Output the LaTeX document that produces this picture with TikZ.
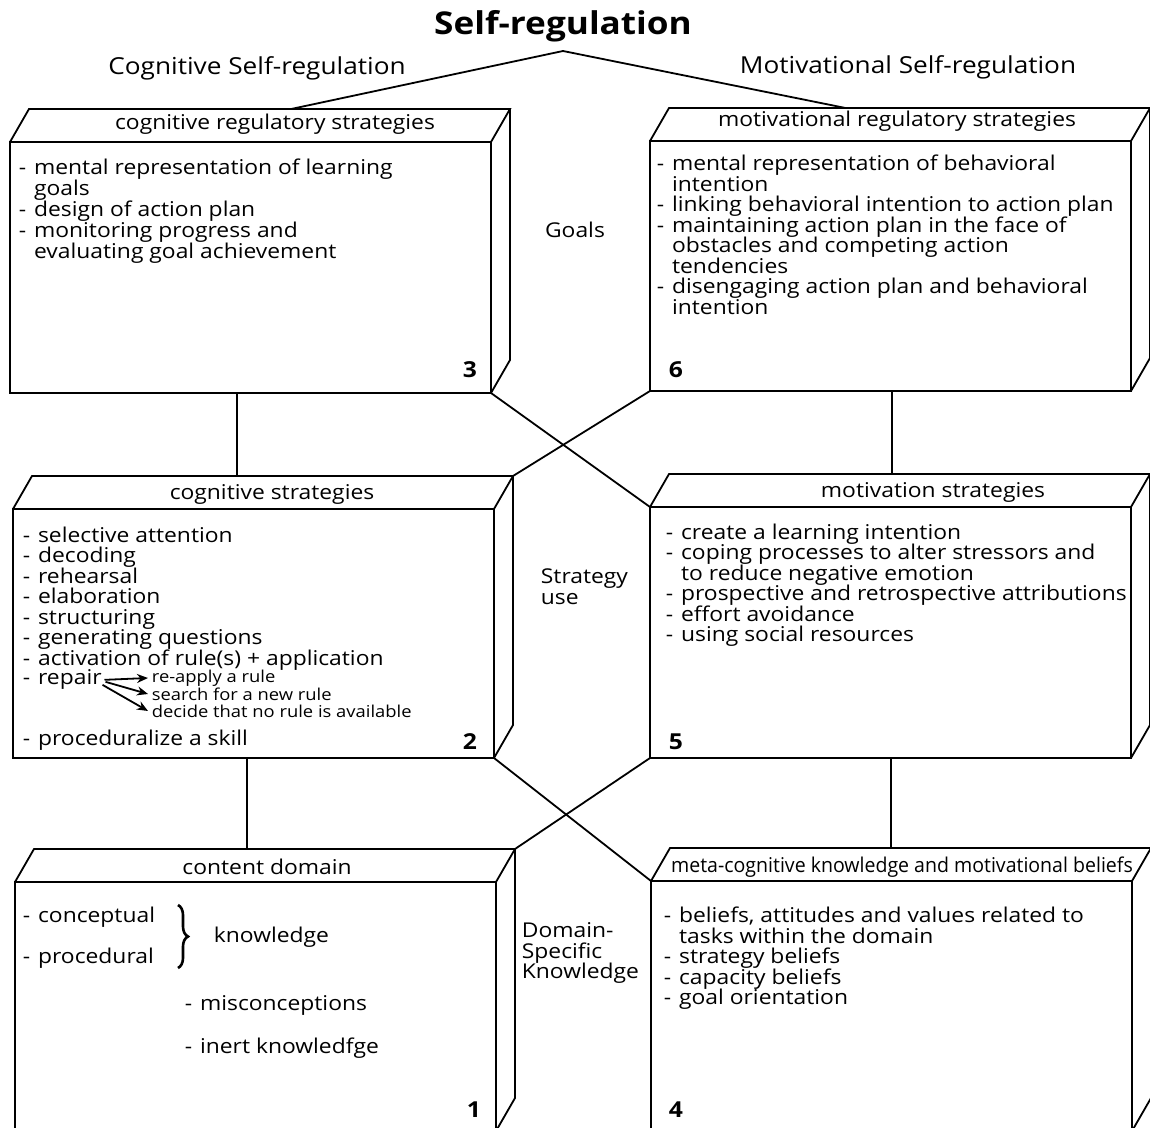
\documentclass[tikz,border=0pt]{standalone}
\usepackage{fontspec}
\setmainfont{Open Sans}[FakeStretch=1.12]
\usetikzlibrary{calc,arrows.meta,decorations.pathreplacing}
\newcommand{\itm}{\makebox[7.6pt][l]{-}}
\newcommand{\cnt}{\hspace*{7.6pt}}
\newcommand{\tightlines}{\lineskiplimit=-30pt\lineskip=0pt}
\newcommand{\cuboid}[5]{%
  \node[face, minimum width={(#4-#2)*0.5pt}, minimum height={(#5-#3)*0.5pt}, anchor=north west] (#1) at (#2,#3) {};
  \coordinate (#1-tl) at ($(#1.north west)+(19,-33)$);
  \coordinate (#1-tr) at ($(#1.north east)+(19,-33)$);
  \coordinate (#1-br) at ($(#1.south east)+(19,-33)$);
  \draw (#1.north west) -- (#1-tl) -- (#1-tr) -- (#1.north east);
  \draw (#1-tr) -- (#1-br) -- (#1.south east);
}
\begin{document}
\begin{tikzpicture}[x=0.5pt,y=-0.5pt, line width=0.9pt,
  face/.style={draw, inner sep=0pt, outer sep=0pt},
  txt/.style={inner sep=0pt, font=\fontsize{10.2}{10.25}\selectfont\tightlines, align=left, anchor=north west},
  hdr/.style={inner sep=0pt, font=\fontsize{10.2}{12}\selectfont},
  num/.style={inner sep=0pt, font=\fontsize{11}{13}\selectfont\bfseries},
  small/.style={inner sep=0pt, inner xsep=1.5pt, font=\fontsize{8.2}{10}\selectfont, anchor=west},
  arr/.style={-{Stealth[length=5.5pt,width=4.5pt]}, line width=0.9pt}]
\clip (0,0) rectangle (1150,1128);
\useasboundingbox (0,0) rectangle (1150,1128);

% titles
\node[inner sep=0pt, font=\fontsize{15.7}{19}\selectfont\bfseries] (title) at (563,26) {Self-regulation};
\node[inner sep=0pt, font=\fontsize{11.7}{15}\selectfont] (cog) at (257,68) {Cognitive Self-regulation};
\node[inner sep=0pt, font=\fontsize{11.7}{15}\selectfont] (mot) at (908,67) {Motivational Self-regulation};
\coordinate (apex) at (563,51);

% boxes
\cuboid{b3}{10}{142}{491}{393}
\cuboid{b6}{650}{141}{1131}{391}
\cuboid{b2}{13}{509}{494}{758}
\cuboid{b5}{650}{507}{1131}{758}
\cuboid{b1}{15}{882}{496}{1131}
\cuboid{b4}{651}{881}{1132}{1131}

% connectors
\draw (apex) -- ($(b3-tl)!0.545!(b3-tr)$);
\draw (apex) -- ($(b6-tl)!0.367!(b6-tr)$);
\coordinate (v1) at (237,0);
\coordinate (v2) at (892,0);
\coordinate (v3) at (247,0);
\coordinate (v4) at (891,0);
\draw (b3.south -| v1) -- (b2-tl -| v1);
\draw (b6.south -| v2) -- (b5-tl -| v2);
\draw (b2.south -| v3) -- (b1-tl -| v3);
\draw (b5.south -| v4) -- (b4-tl -| v4);
\draw (b3.south east) -- (b5.north west);
\draw (b6.south west) -- (b2-tr);
\draw (b2.south east) -- (b4.north west);
\draw (b5.south west) -- (b1-tr);

% headers
\node[hdr] (h3) at (275,124) {cognitive regulatory strategies};
\node[hdr] (h6) at (897,121) {motivational regulatory strategies};
\node[hdr] (h2) at (272,494) {cognitive strategies};
\node[hdr] (h5) at (933,492) {motivation strategies};
\node[hdr] (h1) at (267,867) {content domain};
\node[hdr] (h4) at (902,867) {\scalebox{0.855}[1]{meta-cognitive knowledge and motivational beliefs}};

% box 3
\node[txt, font=\fontsize{10.2}{10.5}\selectfont\tightlines] (l3) at (18,158) {\itm mental representation of learning\\
\cnt goals\\
\itm design of action plan\\
\itm monitoring progress and\\
\cnt evaluating goal achievement};
% box 6
\node[txt] (l6) at (656,154) {\itm mental representation of behavioral\\
\cnt intention\\
\itm linking behavioral intention to action plan\\
\itm maintaining action plan in the face of\\
\cnt obstacles and competing action\\
\cnt tendencies\\
\itm disengaging action plan and behavioral\\
\cnt intention};
% box 2
\node[txt] (l2) at (22,526) {\itm selective attention\\
\itm decoding\\
\itm rehearsal\\
\itm elaboration\\
\itm structuring\\
\itm generating questions\\
\itm activation of rule(s) + application};
\node[txt] (rep) at (22,669) {\itm repair};
\node[small] (r1) at (148,678) {re-apply a rule};
\node[small] (r2) at (148,694) {search for a new rule};
\node[small] (r3) at (148,711) {decide that no rule is available};
\draw[arr] ([xshift=1pt]rep.east) -- (r1.west);
\draw[arr] ([xshift=1.5pt,yshift=-1pt]rep.east) -- (r2.west);
\draw[arr] ([yshift=-2.5pt]rep.east) -- (r3.west);
\node[txt] (l2b) at (22,729) {\itm proceduralize a skill};
% box 5
\node[txt] (l5) at (665,523) {\itm create a learning intention\\
\itm coping processes to alter stressors and\\
\cnt to reduce negative emotion\\
\itm prospective and retrospective attributions\\
\itm effort avoidance\\
\itm using social resources};
% box 1
\node[txt] (c1) at (22,906) {\itm conceptual};
\node[txt] (c2) at (22,947) {\itm procedural};
\draw[decorate, decoration={brace, amplitude=5pt}, line width=1.3pt] (178,905) -- (178,968);
\node[txt, anchor=west] (kn) at (213,937) {knowledge};
\node[txt] (mis) at (184,995) {\itm misconceptions};
\node[txt] (ine) at (184,1037) {\itm inert knowledfge};
% box 4
\node[txt] (l4) at (663,906) {\itm beliefs, attitudes and values related to\\
\cnt tasks within the domain\\
\itm strategy beliefs\\
\itm capacity beliefs\\
\itm goal orientation};

% middle labels
\node[hdr] (goals) at (575,230) {Goals};
\node[txt] (su) at (540,568) {Strategy\\use};
\node[txt] (dsk) at (521,922) {Domain-\\Specific\\Knowledge};

% numbers
\node[num] (n3) at (470,370) {3};
\node[num] (n6) at (676,370) {6};
\node[num] (n2) at (470,742) {2};
\node[num] (n5) at (676,742) {5};
\node[num] (n1) at (474,1110) {1};
\node[num] (n4) at (676,1110) {4};
\end{tikzpicture}
\end{document}
